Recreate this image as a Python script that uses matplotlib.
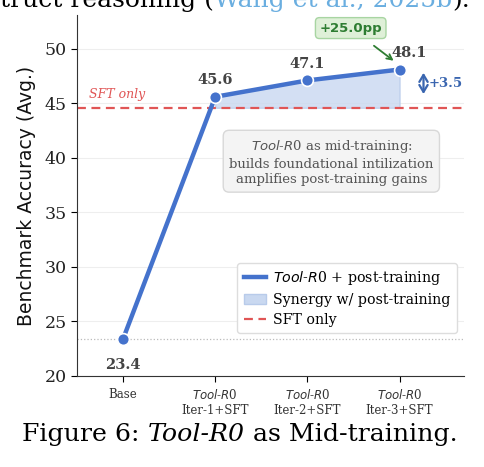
import matplotlib
matplotlib.use("Agg")
import matplotlib.pyplot as plt
from matplotlib.patches import Patch
from matplotlib.lines import Line2D

categories = ["Base", r"$\mathit{Tool}$-$\mathit{R}$0" + "\nIter-1+SFT",
              r"$\mathit{Tool}$-$\mathit{R}$0" + "\nIter-2+SFT",
              r"$\mathit{Tool}$-$\mathit{R}$0" + "\nIter-3+SFT"]
values = [23.4, 45.6, 47.1, 48.1]
sft_only = 44.6
yticks = [20, 25, 30, 35, 40, 45, 50]

plt.rcParams['font.family'] = ['DejaVu Serif']
plt.rcParams['mathtext.fontset'] = 'dejavusans'

fig = plt.figure(figsize=(4.85, 4.67), dpi=100)
ax = fig.add_axes([0.1588, 0.1949, 0.798, 0.773])

x = list(range(len(values)))
blue = '#4472CC'
red = '#E05555'

ax.fill_between(x[1:], [sft_only] * 3, values[1:], color='#c9d8f0', alpha=0.8,
                edgecolor='#b8cbea', linewidth=1, zorder=1)
ax.axhline(sft_only, color=red, ls=(0, (4, 2.5)), lw=1.6, zorder=2)
ax.axhline(values[0], color='#bbbbbb', ls=':', lw=0.9, zorder=1)
ax.plot(x, values, color=blue, lw=3.2, marker='o', ms=8.5,
        markeredgecolor='white', markeredgewidth=1.2, zorder=4)

ax.set_xlim(-0.5, 3.7)
ax.set_ylim(20, 53.1)
ax.set_yticks(yticks)
ax.set_yticklabels([str(t) for t in yticks], fontsize=12.5, color='#222222')
ax.set_xticks(x)
ax.set_xticklabels(categories, fontsize=8.5, color='#333333')
ax.tick_params(axis='x', length=4, pad=5)
ax.tick_params(axis='y', length=4)
ax.grid(axis='y', color='#eeeeee', lw=0.8)
ax.set_axisbelow(True)
for s in ['top', 'right']:
    ax.spines[s].set_visible(False)
for s in ['left', 'bottom']:
    ax.spines[s].set_color('#333333')
ax.set_ylabel("Benchmark Accuracy (Avg.)", family='DejaVu Sans', fontsize=13.5,
              color='#111111', labelpad=6)

# value labels
offs = [(0, -2.4), (0, 1.5), (0, 1.5), (0.1, 1.55)]
for xi, v, (dx, dy) in zip(x, values, offs):
    ax.text(xi + dx, v + dy, f"{v:.1f}", ha='center', va='center',
            fontsize=10.5, fontweight='bold', color='#444444', zorder=5)

ax.text(-0.37, 45.8, "SFT only", color=red, style='italic', fontsize=9,
        ha='left', va='center')

# +25.0pp annotation
ax.annotate("+25.0pp", xy=(2.96, 48.75), xytext=(2.47, 51.9),
            ha='center', va='center', fontsize=9.5, fontweight='bold',
            family='DejaVu Sans', color='#2e7d32',
            bbox=dict(boxstyle='round,pad=0.3', fc='#dff0d8', ec='#a8d5a2', lw=1),
            arrowprops=dict(arrowstyle='->', color='#2e7d32', lw=1.3,
                            shrinkA=8, shrinkB=2))

# +3.5 double arrow
ax.annotate("", xy=(3.26, 45.85), xytext=(3.26, 47.8),
            arrowprops=dict(arrowstyle='<->,head_length=0.5,head_width=0.3',
                            color='#3a66b0', lw=1.6, shrinkA=0, shrinkB=0))
ax.text(3.32, 46.8, "+3.5", color='#3a66b0', fontsize=9.5, fontweight='bold',
        ha='left', va='center')

# middle box
ax.text(2.26, 39.6,
        r"$\mathit{Tool}$-$\mathit{R}$0 as mid-training:" + "\nbuilds foundational intilization\namplifies post-training gains",
        ha='center', va='center', fontsize=9.5, color='#555555', linespacing=1.25,
        bbox=dict(boxstyle='round,pad=0.45', fc='#f4f4f4', ec='#d8d8d8', lw=1))

handles = [Line2D([0], [0], color=blue, lw=3.2),
           Patch(facecolor='#c9d8f0', edgecolor='#b8cbea'),
           Line2D([0], [0], color=red, ls=(0, (4, 2.5)), lw=1.6)]
labels = [r"$\mathit{Tool}$-$\mathit{R}$0 + post-training", "Synergy w/ post-training", "SFT only"]
ax.legend(handles, labels, loc='lower right', bbox_to_anchor=(0.982, 0.119),
          borderaxespad=0, fontsize=10.2, frameon=True, framealpha=1,
          edgecolor='#dddddd', handlelength=1.6, handletextpad=0.5,
          borderpad=0.45, labelspacing=0.4, fancybox=True)

# surrounding document text (cut off at the top edge, as in the reference)
fig.canvas.draw()
r = fig.canvas.get_renderer()
parts = [("truct reasoning (", 'black'), ("Wang et al., 2025b", '#6aaee0'), (").", 'black')]
full = fig.text(0, 0, "".join(p[0] for p in parts), fontsize=19.5, family='DejaVu Serif')
w = full.get_window_extent(r).width
full.remove()
fs_top = 19.5 * 470 / w
xp = 0.0
for s, c in parts:
    t = fig.text(xp, 0.985, s, fontsize=fs_top, family='DejaVu Serif', color=c,
                 ha='left', va='baseline')
    bb = t.get_window_extent(r)
    xp = bb.x1 / fig.bbox.width

cap = [("Figure 6: ", 'normal'), ("Tool-R0", 'italic'), (" as Mid-training.", 'normal')]
xp = 22 / 485
for s, st in cap:
    t = fig.text(xp, 26 / 467, s, fontsize=18.2, family='DejaVu Serif', style=st,
                 color='black', ha='left', va='baseline')
    bb = t.get_window_extent(r)
    xp = bb.x1 / fig.bbox.width

fig.savefig("out.png", dpi=100)
